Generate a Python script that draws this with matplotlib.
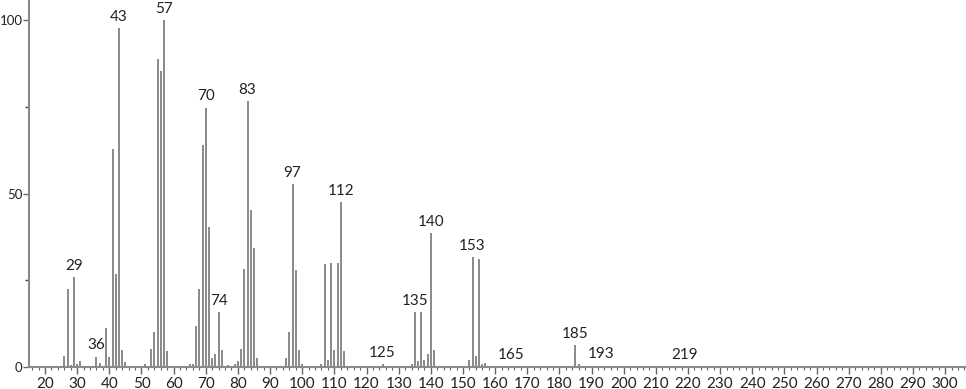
import matplotlib
matplotlib.use("Agg")
import matplotlib.pyplot as plt
from matplotlib.ticker import MultipleLocator

plt.rcParams["font.family"] = ["Lato", "DejaVu Sans"]

# m/z and relative intensity
mz = [25, 26, 27, 28, 29, 30, 31, 35, 36, 37, 39, 40, 41, 42, 43, 44, 45,
      50, 51, 52, 53, 54, 55, 56, 57, 58,
      65, 66, 67, 68, 69, 70, 71, 72, 73, 74, 75, 77, 78, 79, 80,
      81, 82, 83, 84, 85, 86, 87,
      95, 96, 97, 98, 99, 100, 101,
      106, 107, 108, 109, 110, 111, 112, 113,
      125, 134, 135, 136, 137, 138, 139, 140, 141,
      150, 152, 153, 154, 155, 156, 157,
      165, 167, 179, 185, 186, 193, 195, 219, 221]
intensity = [0.3, 3.2, 22.4, 0.5, 26.0, 0.8, 1.7, 0.3, 3.0, 1.2, 11.1, 3.0, 62.8, 26.8, 97.6, 4.9, 1.5,
             0.3, 0.8, 0.3, 5.1, 10.1, 88.7, 85.4, 100.0, 4.6,
             0.8, 1.0, 11.8, 22.5, 64.1, 74.8, 40.5, 2.7, 3.7, 15.9, 4.9, 0.6, 0.3, 1.0, 1.7,
             5.2, 28.3, 76.7, 45.3, 34.4, 2.7, 0.3,
             2.7, 10.1, 52.7, 28.0, 4.9, 0.8, 0.3,
             0.9, 29.8, 2.0, 30.0, 4.9, 30.0, 47.5, 4.6,
             0.9, 0.9, 15.8, 1.6, 15.8, 2.0, 3.7, 38.5, 4.9,
             0.4, 1.9, 31.8, 3.2, 31.0, 1.0, 1.2,
             0.3, 0.3, 0.3, 6.2, 0.8, 0.4, 0.3, 0.3, 0.3]

# peaks that carry a m/z label
labelled = [29, 36, 43, 57, 70, 74, 83, 97, 112, 125, 135, 140, 153, 165, 185, 193, 219]

fig = plt.figure(figsize=(9.66, 3.89), dpi=100)
ax = fig.add_axes([0.030, 0.0566, 0.970, 0.9434])

ax.vlines(mz, 0, intensity, color="#808080", linewidth=1.3)

lookup = dict(zip(mz, intensity))
for m in labelled:
    ax.text(m, lookup[m] + 1.2, str(m), ha="center", va="bottom",
            fontsize=11, color="#222222")

ax.set_xlim(15.0, 306.5)
ax.set_ylim(0, 105.8)

ax.xaxis.set_major_locator(MultipleLocator(10))
ax.xaxis.set_minor_locator(MultipleLocator(2))
ax.set_xticks(range(20, 301, 10))
ax.set_yticks([0, 50, 100])
ax.set_yticks([25, 75], minor=True)

ax.tick_params(axis="x", which="major", length=5, width=1, color="#666666",
               labelsize=11, labelcolor="#222222", pad=2)
ax.tick_params(axis="x", which="minor", length=2.5, width=0.8, color="#666666")
ax.tick_params(axis="y", which="major", length=4, width=1, color="#666666",
               labelsize=9.5, labelcolor="#222222", pad=0.5)
ax.tick_params(axis="y", which="minor", length=3, width=1, color="#444444")

for side in ["top", "right"]:
    ax.spines[side].set_visible(False)
for side in ["left", "bottom"]:
    ax.spines[side].set_color("#8a8a8a")
    ax.spines[side].set_linewidth(1.5)

fig.savefig("out.png", dpi=100)
plt.close(fig)
